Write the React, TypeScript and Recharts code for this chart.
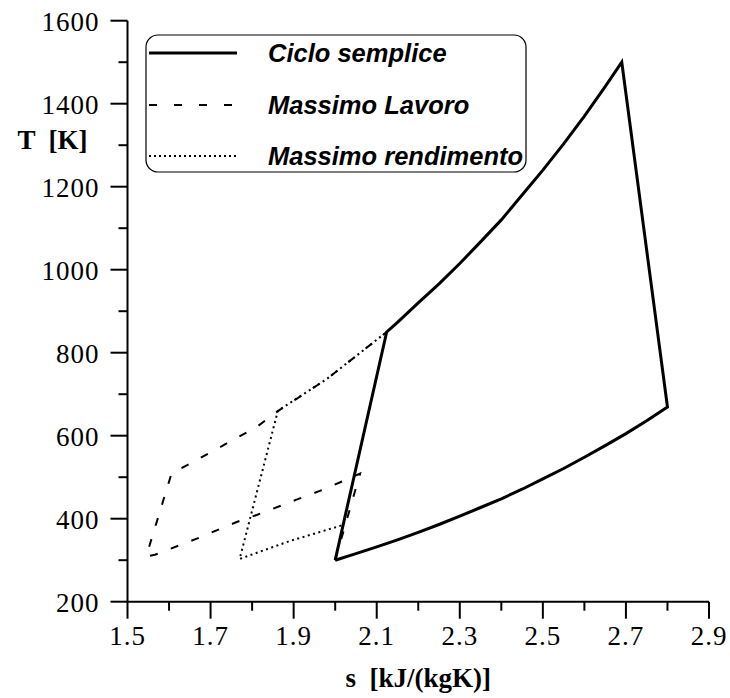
import { LineChart, Line, XAxis, YAxis } from "recharts";

// the figure fills the whole page
document.body.style.margin = "0";

// entropy ticks (kJ/kgK) and temperature ticks (K)
const sTicks = [1.5, 1.6, 1.7, 1.8, 1.9, 2.0, 2.1, 2.2, 2.3, 2.4, 2.5, 2.6, 2.7, 2.8, 2.9];
const tTicks = [200, 300, 400, 500, 600, 700, 800, 900, 1000, 1100, 1200, 1300, 1400, 1500, 1600];

// Ciclo semplice: compressione, riscaldamento, espansione, raffreddamento
const cicloSemplice = [
  { s: 2.0, T: 300 },
  { s: 2.124, T: 850 },
  { s: 2.15, T: 873 },
  { s: 2.2, T: 920 },
  { s: 2.25, T: 966 },
  { s: 2.3, T: 1015 },
  { s: 2.35, T: 1067 },
  { s: 2.4, T: 1120 },
  { s: 2.45, T: 1180 },
  { s: 2.5, T: 1240 },
  { s: 2.55, T: 1303 },
  { s: 2.6, T: 1370 },
  { s: 2.65, T: 1441 },
  { s: 2.69, T: 1500 },
  { s: 2.8, T: 669 },
  { s: 2.75, T: 636 },
  { s: 2.7, T: 605 },
  { s: 2.65, T: 576 },
  { s: 2.6, T: 548 },
  { s: 2.55, T: 521 },
  { s: 2.5, T: 496 },
  { s: 2.45, T: 471 },
  { s: 2.4, T: 448 },
  { s: 2.35, T: 427 },
  { s: 2.3, T: 406 },
  { s: 2.25, T: 386 },
  { s: 2.2, T: 367 },
  { s: 2.15, T: 349 },
  { s: 2.1, T: 332 },
  { s: 2.05, T: 316 },
  { s: 2.0, T: 300 },
];

const massimoLavoro = [
  { s: 2.0, T: 300 },
  { s: 2.06, T: 509 },
  { s: 2.015, T: 489 },
  { s: 1.963, T: 467 },
  { s: 1.907, T: 446 },
  { s: 1.811, T: 409 },
  { s: 1.763, T: 392 },
  { s: 1.667, T: 352 },
  { s: 1.566, T: 313 },
  { s: 1.545, T: 309 },
  { s: 1.606, T: 509 },
  { s: 1.658, T: 537 },
  { s: 1.751, T: 588 },
  { s: 1.811, T: 621 },
  { s: 1.863, T: 660 },
  { s: 1.979, T: 736 },
  { s: 2.124, T: 850 },
];

const massimoRendimento = [
  { s: 2.0, T: 300 },
  { s: 2.02, T: 385 },
  { s: 1.89, T: 346 },
  { s: 1.77, T: 303 },
  { s: 1.862, T: 660 },
  { s: 1.979, T: 736 },
  { s: 2.124, T: 850 },
];

const seriesNames = ["Ciclo semplice", "Massimo Lavoro", "Massimo rendimento"];

const serif = '"Liberation Serif", "Times New Roman", serif';
const sans = '"Liberation Sans", Arial, sans-serif';
const tickFont = { fontFamily: serif, fontSize: 27, letterSpacing: 1 };

const XTick = (props: any) => {
  const { x, y, payload } = props;
  const major = Math.round(payload.value * 10) % 2 === 1;
  return (
    <g>
      <line x1={x} x2={x} y1={y} y2={y + (major ? 17 : 9)} stroke="#000" strokeWidth={2} />
      {major && (
        <text x={x} y={y + 43} textAnchor="middle" style={tickFont} fill="#000">
          {payload.value.toFixed(1)}
        </text>
      )}
    </g>
  );
};

const YTick = (props: any) => {
  const { x, y, payload } = props;
  const major = payload.value % 200 === 0;
  return (
    <g>
      <line x1={x - (major ? 17 : 9)} x2={x} y1={y} y2={y} stroke="#000" strokeWidth={2} />
      {major && (
        <text x={x - 28} y={y + 10} textAnchor="end" style={tickFont} fill="#000">
          {payload.value}
        </text>
      )}
    </g>
  );
};

const ChartLegend = () => (
  <svg width={384} height={141} style={{ position: "absolute", left: 145, top: 34, overflow: "visible" }}>
    <rect x={1} y={1} width={380} height={137} rx={12} fill="#fff" stroke="#000" strokeWidth={1.2} />
    <line x1={4} x2={92} y1={19} y2={19} stroke="#000" strokeWidth={3} />
    <line x1={4} x2={92} y1={71} y2={71} stroke="#000" strokeWidth={2} strokeDasharray="8 17" />
    <line x1={4} x2={92} y1={122} y2={122} stroke="#000" strokeWidth={2} strokeDasharray="2 3" />
    {seriesNames.map((name, i) => (
      <text
        key={name}
        x={123}
        y={28 + i * 51.5}
        style={{ fontFamily: sans, fontWeight: "bold", fontStyle: "italic", fontSize: 25.5 }}
        fill="#000"
      >
        {name}
      </text>
    ))}
  </svg>
);

export default function App() {
  return (
    <div style={{ position: "relative", width: 730, height: 698 }}>
      <LineChart
        width={730}
        height={698}
        margin={{ top: 20.7, right: 21, bottom: 36.3, left: 17.5 }}
      >
        <XAxis
          dataKey="s"
          type="number"
          domain={[1.5, 2.9]}
          ticks={sTicks}
          interval={0}
          allowDataOverflow
          height={60}
          tickSize={0}
          tickMargin={0}
          tickLine={false}
          tick={<XTick />}
          axisLine={{ stroke: "#000", strokeWidth: 2 }}
          label={(p: any) => (
            <text
              x={p.viewBox.x + p.viewBox.width / 2}
              y={p.viewBox.y + 85}
              textAnchor="middle"
              fill="#000"
              style={{ fontFamily: serif, fontWeight: "bold", fontSize: 27, whiteSpace: "pre" }}
            >
              {"s  [kJ/(kgK)]"}
            </text>
          )}
        />
        <YAxis
          dataKey="T"
          type="number"
          domain={[200, 1600]}
          ticks={tTicks}
          interval={0}
          allowDataOverflow
          width={110}
          tickSize={0}
          tickMargin={0}
          tickLine={false}
          tick={<YTick />}
          axisLine={{ stroke: "#000", strokeWidth: 2 }}
          label={(p: any) => (
            <text
              x={p.viewBox.x + 35}
              y={p.viewBox.y + 128}
              textAnchor="middle"
              fill="#000"
              style={{ fontFamily: serif, fontWeight: "bold", fontSize: 27, whiteSpace: "pre" }}
            >
              {"T  [K]"}
            </text>
          )}
        />
        <Line
          data={massimoRendimento}
          dataKey="T"
          name={seriesNames[2]}
          type="linear"
          stroke="#000"
          strokeWidth={2}
          strokeDasharray="2 3.5"
          dot={false}
          isAnimationActive={false}
        />
        <Line
          data={massimoLavoro}
          dataKey="T"
          name={seriesNames[1]}
          type="linear"
          stroke="#000"
          strokeWidth={2}
          strokeDasharray="8 14"
          dot={false}
          isAnimationActive={false}
        />
        <Line
          data={cicloSemplice}
          dataKey="T"
          name={seriesNames[0]}
          type="linear"
          stroke="#000"
          strokeWidth={3}
          dot={false}
          isAnimationActive={false}
        />
      </LineChart>
      <ChartLegend />
    </div>
  );
}
